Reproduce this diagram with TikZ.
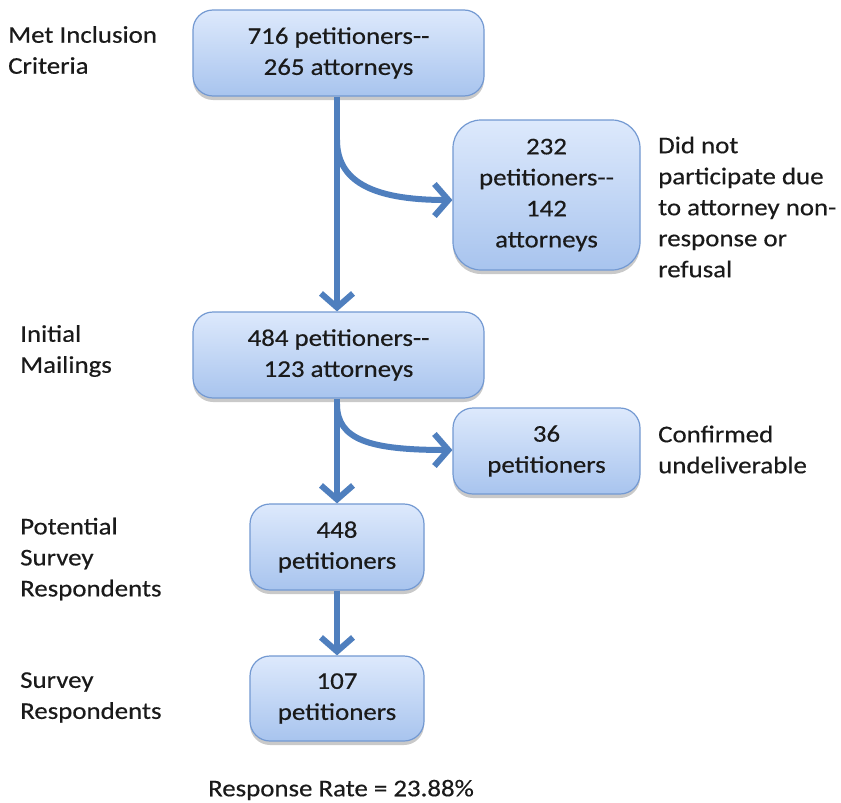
\documentclass[tikz,border=0pt]{standalone}
\usepackage{fontspec}
\setmainfont[FakeStretch=1.12,FakeBold=0.4]{Carlito}
\usetikzlibrary{arrows.meta,shadows}
\definecolor{boxtop}{HTML}{DDE9FC}
\definecolor{boxbot}{HTML}{A8C4EE}
\definecolor{boxline}{HTML}{7399D2}
\definecolor{arrowc}{HTML}{4F7FBE}
\definecolor{txt}{HTML}{1A1A1A}
\begin{document}
\begin{tikzpicture}[x=1pt,y=-1pt,
  flowbox/.style={draw=boxline,line width=1.2pt,rounded corners=20pt,
    top color=boxtop,bottom color=boxbot,align=center,text=txt,
    font=\fontsize{24}{31}\selectfont,inner sep=0pt,
    drop shadow={opacity=0.35,shadow xshift=0pt,shadow yshift=-4pt,fill=black!60}},
  sidelabel/.style={anchor=west,align=left,inner sep=0pt,text=txt,
    font=\fontsize{24}{31}\selectfont},
  flowarrow/.style={draw=arrowc,line width=6pt,
    -{Straight Barb[length=14pt,width=32pt,line width=6pt]}}]
\useasboundingbox (0,0) rectangle (841,803);
\fill[white] (0,0) rectangle (841,803);

\node[flowbox,minimum width=291pt,minimum height=86pt] (b1) at (338.5,53) {716 petitioners-{}-\\265 attorneys};
\node[flowbox,minimum width=187pt,minimum height=150pt,rounded corners=28pt] (b2) at (546.5,195) {232\\petitioners-{}-\\142\\attorneys};
\node[flowbox,minimum width=291pt,minimum height=86pt] (b3) at (338.5,355) {484 petitioners-{}-\\123 attorneys};
\node[flowbox,minimum width=187pt,minimum height=86pt] (b4) at (546.5,451) {36\\petitioners};
\node[flowbox,minimum width=174pt,minimum height=86pt] (b5) at (337,547) {448\\petitioners};
\node[flowbox,minimum width=174pt,minimum height=85pt] (b6) at (337,698.5) {107\\petitioners};

\node[sidelabel] (l1) at (8,50) {Met Inclusion\\Criteria};
\node[sidelabel] (l2) at (20,351) {Initial\\Mailings};
\node[sidelabel] (l3) at (20,559) {Potential\\Survey\\Respondents};
\node[sidelabel] (l4) at (20,697.5) {Survey\\Respondents};
\node[sidelabel] (r1) at (658,207) {Did not\\participate due\\to attorney non-\\response or\\refusal};
\node[sidelabel] (r2) at (658,449.5) {Confirmed\\undeliverable};
\node[anchor=center,inner sep=0pt,text=txt,font=\fontsize{24}{31}\selectfont] (rr) at (341,790) {Response Rate = 23.88\%};

\coordinate (s1) at (337,140);
\coordinate (s2) at (337,404);

\draw[flowarrow] (b1.south -| s1) -- (b3.north -| s1);
\draw[flowarrow] (s1) .. controls (337,180) and (370,200) .. (b2.west |- 0,200);
\draw[flowarrow] (b3.south -| s2) -- (b5.north -| s2);
\draw[flowarrow] (s2) .. controls (337,440) and (370,450) .. (b4.west |- 0,450);
\draw[flowarrow] (b5.south -| s2) -- (b6.north -| s2);
\end{tikzpicture}
\end{document}
